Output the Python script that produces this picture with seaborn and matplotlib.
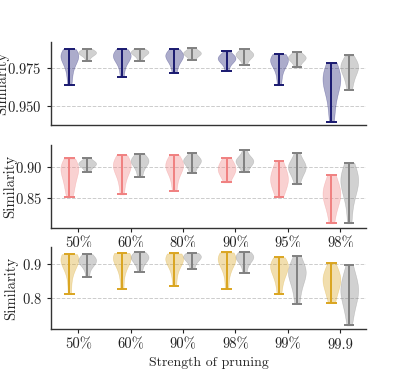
import matplotlib
matplotlib.use("Agg")
import matplotlib.pyplot as plt
import seaborn as sns
import pandas as pd

# ---------------- data ----------------
cats_top = ["50%", "60%", "80%", "90%", "95%", "98%"]
cats_mid = ["50%", "60%", "80%", "90%", "95%", "98%"]
cats_bot = ["50%", "60%", "90%", "98%", "99%", "99.9"]

top_col = [
    [0.9636, 0.970, 0.975, 0.979, 0.981, 0.982, 0.983, 0.984, 0.985, 0.987],
    [0.969, 0.975, 0.979, 0.981, 0.982, 0.983, 0.984, 0.985, 0.987],
    [0.9716, 0.976, 0.979, 0.981, 0.982, 0.983, 0.984, 0.985, 0.987],
    [0.9729, 0.977, 0.979, 0.980, 0.981, 0.9815, 0.982, 0.983, 0.9855],
    [0.9636, 0.970, 0.975, 0.978, 0.979, 0.980, 0.981, 0.982, 0.9838],
    [0.9398, 0.950, 0.958, 0.963, 0.966, 0.968, 0.970, 0.973, 0.9781],
]
top_gray = [
    [0.9792, 0.982, 0.9835, 0.984, 0.9845, 0.985, 0.9855, 0.986, 0.9872],
    [0.9792, 0.982, 0.984, 0.9845, 0.985, 0.9855, 0.986, 0.9873],
    [0.9799, 0.982, 0.9835, 0.984, 0.9845, 0.985, 0.986, 0.9877],
    [0.9766, 0.980, 0.982, 0.983, 0.9835, 0.984, 0.985, 0.987],
    [0.9751, 0.978, 0.980, 0.981, 0.9815, 0.982, 0.983, 0.9851],
    [0.9604, 0.966, 0.970, 0.973, 0.975, 0.976, 0.977, 0.979, 0.9829],
]
mid_col = [
    [0.852, 0.865, 0.875, 0.885, 0.892, 0.897, 0.900, 0.905, 0.9127],
    [0.856, 0.875, 0.888, 0.895, 0.900, 0.903, 0.906, 0.910, 0.918],
    [0.862, 0.878, 0.890, 0.896, 0.900, 0.903, 0.906, 0.910, 0.918],
    [0.875, 0.884, 0.889, 0.893, 0.896, 0.899, 0.903, 0.908, 0.9138],
    [0.852, 0.862, 0.870, 0.876, 0.880, 0.885, 0.891, 0.899, 0.9085],
    [0.8104, 0.830, 0.842, 0.850, 0.855, 0.860, 0.866, 0.875, 0.887],
]
mid_gray = [
    [0.8916, 0.898, 0.902, 0.904, 0.905, 0.906, 0.908, 0.9138],
    [0.884, 0.895, 0.903, 0.907, 0.909, 0.911, 0.913, 0.920],
    [0.8895, 0.898, 0.904, 0.908, 0.910, 0.911, 0.913, 0.921],
    [0.891, 0.900, 0.905, 0.908, 0.910, 0.911, 0.914, 0.9264],
    [0.872, 0.883, 0.891, 0.896, 0.899, 0.901, 0.904, 0.910, 0.922],
    [0.8104, 0.840, 0.858, 0.868, 0.875, 0.880, 0.885, 0.893, 0.906],
]
bot_col = [
    [0.8126, 0.860, 0.890, 0.905, 0.912, 0.917, 0.920, 0.924, 0.930],
    [0.827, 0.870, 0.895, 0.910, 0.917, 0.921, 0.925, 0.929, 0.934],
    [0.837, 0.870, 0.893, 0.906, 0.913, 0.918, 0.922, 0.926, 0.932],
    [0.827, 0.868, 0.893, 0.907, 0.914, 0.918, 0.922, 0.927, 0.935],
    [0.8126, 0.845, 0.865, 0.880, 0.890, 0.896, 0.901, 0.908, 0.9205],
    [0.787, 0.810, 0.828, 0.842, 0.852, 0.860, 0.870, 0.883, 0.903],
]
bot_gray = [
    [0.8626, 0.890, 0.902, 0.908, 0.912, 0.915, 0.919, 0.930],
    [0.878, 0.898, 0.910, 0.917, 0.921, 0.924, 0.928, 0.937],
    [0.886, 0.903, 0.913, 0.919, 0.923, 0.925, 0.928, 0.934],
    [0.874, 0.898, 0.911, 0.918, 0.922, 0.925, 0.929, 0.937],
    [0.7833, 0.820, 0.845, 0.862, 0.873, 0.881, 0.887, 0.896, 0.9244],
    [0.7206, 0.760, 0.785, 0.803, 0.816, 0.826, 0.836, 0.850, 0.870, 0.898],
]

top_ticks = [0.950, 0.975]
mid_ticks = [0.85, 0.90]
bot_ticks = [0.8, 0.9]

# ---------------- style ----------------
sns.set_theme(style="ticks")
plt.rcParams["font.family"] = ["cmr10", "DejaVu Serif"]
plt.rcParams["mathtext.fontset"] = "cm"
plt.rcParams["axes.formatter.use_mathtext"] = True
plt.rcParams["font.size"] = 10

fig = plt.figure(figsize=(4.07, 3.70), dpi=100)
W, H = 407, 370


def box(l, t, r, b):
    return [l / W, 1 - b / H, (r - l) / W, (b - t) / H]


def panel(rect, cats, col_vals, gray_vals, color, ticks, ylim, show_x,
          label_x, xlabel=None):
    ax = fig.add_axes(rect)
    rows = []
    for c, cv, gv in zip(cats, col_vals, gray_vals):
        rows += [{"cat": c, "grp": "a", "v": v} for v in cv]
        rows += [{"cat": c, "grp": "b", "v": v} for v in gv]
    df = pd.DataFrame(rows)
    sns.violinplot(data=df, x="cat", y="v", hue="grp", hue_order=["a", "b"],
                   order=cats, palette={"a": color, "b": "gray"},
                   dodge=True, width=0.68, gap=0, inner=None, cut=0,
                   density_norm="width", saturation=1, linewidth=0.4,
                   alpha=0.36, legend=False, ax=ax, zorder=2)
    for coll in ax.collections:
        fc = coll.get_facecolor()
        coll.set_edgecolor(fc)
    off = 0.17
    cap = 0.1
    for i, (cv, gv) in enumerate(zip(col_vals, gray_vals)):
        for vals, dx, lc in ((cv, -off, color), (gv, off, "gray")):
            x = i + dx
            lo, hi = min(vals), max(vals)
            ax.vlines(x, lo, hi, color=lc, lw=1.4, zorder=4)
            ax.hlines([lo, hi], x - cap, x + cap, color=lc, lw=1.4, zorder=4)
    ax.set_xlim(-0.52, 5.49)
    ax.set_ylim(*ylim)
    ax.set_yticks(ticks)
    ax.yaxis.grid(True, linestyle="--", color="#cccccc", lw=0.7)
    ax.set_axisbelow(True)
    ax.set_ylabel("Similarity", fontsize=10.5)
    ax.yaxis.set_label_coords(label_x, 0.5)
    if show_x:
        ax.set_xticks(range(len(cats)))
        ax.set_xticklabels(cats)
    else:
        ax.set_xticks([])
    ax.set_xlabel(xlabel if xlabel else "", fontsize=10)
    for s in ("top", "right"):
        ax.spines[s].set_visible(False)
    for s in ("left", "bottom"):
        ax.spines[s].set_color("#333333")
        ax.spines[s].set_linewidth(1.0)
    ax.tick_params(labelsize=10.5, length=3, width=0.8, colors="#222222")
    return ax


panel(box(51, 42, 366, 125), cats_top, top_col, top_gray, "midnightblue",
      top_ticks, (0.9377, 0.9916), False, -0.133)
panel(box(51, 145, 366, 228), cats_mid, mid_col, mid_gray, "lightcoral",
      mid_ticks, (0.803, 0.934), True, -0.108)
panel(box(51, 247, 366, 329), cats_bot, bot_col, bot_gray, "goldenrod",
      bot_ticks, (0.71, 0.951), True, -0.103, "Strength of pruning")

fig.savefig("out.png", dpi=100)
